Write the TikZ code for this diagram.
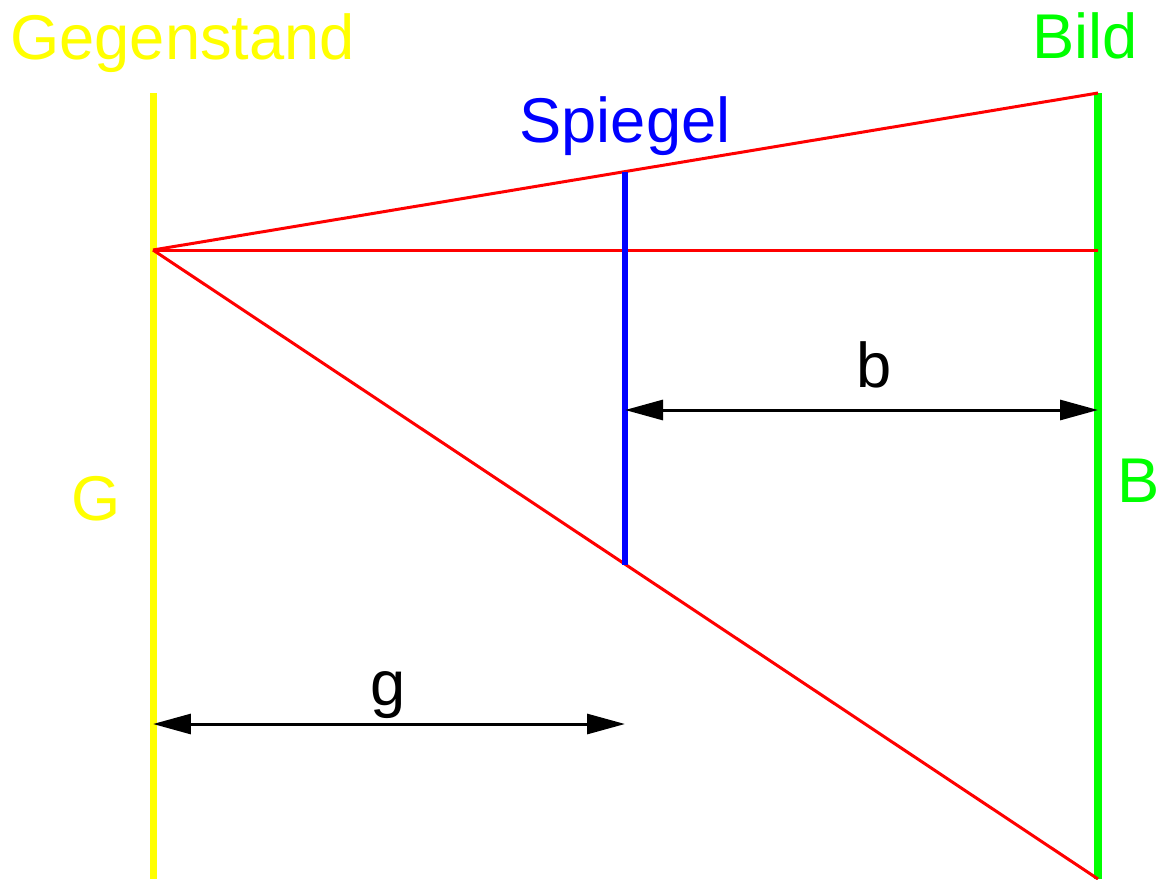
\documentclass[tikz,border=0pt]{standalone}
\usepackage{fontspec}
\setmainfont{Liberation Sans}
\usetikzlibrary{arrows.meta}
\definecolor{objyellow}{RGB}{255,255,0}
\definecolor{imggreen}{RGB}{0,255,0}
\definecolor{mirblue}{RGB}{0,0,255}
\definecolor{rayred}{RGB}{255,0,0}

\begin{document}
\begin{tikzpicture}[
  x=0.02cm,y=-0.02cm,
  font=\fontsize{36}{40}\selectfont,
  object/.style={draw=objyellow,line width=0.14cm},
  image/.style={draw=imggreen,line width=0.15cm},
  mirror/.style={draw=mirblue,line width=0.12cm},
  ray/.style={draw=rayred,line width=0.06cm},
  dim/.style={{Triangle[length=0.76cm,width=0.4cm]}-{Triangle[length=0.76cm,width=0.4cm]},line width=0.06cm,black},
  lab/.style={inner sep=0pt,anchor=base},
]
\useasboundingbox (0,0) rectangle (1165,879);
% screens and mirror
\coordinate (Gtop) at (153,93); \coordinate (Gbot) at (153,879);
\coordinate (Btop) at (1098,93); \coordinate (Bbot) at (1098,879);
\coordinate (Btip) at (1098,250);
\coordinate (Stop) at (625,172); \coordinate (Sbot) at (625,565);
\coordinate (P) at (153,250);
\draw[object] (Gtop) -- (Gbot);
\draw[image] (Btop) -- (Bbot);
% rays
\draw[ray] (P) -- (Btop);
\draw[ray] (P) -- (Btip);
\draw[ray] (P) -- (Bbot);
\draw[mirror] (Stop) -- (Sbot);
% distances
\coordinate (bL) at (625,410); \coordinate (bR) at (1098,410);
\coordinate (gL) at (153,724); \coordinate (gR) at (625,724);
\draw[dim] (bL) -- (bR);
\draw[dim] (gL) -- (gR);
% labels
\node[lab,anchor=base west,objyellow] (tG) at (10,59) {Gegenstand};
\node[lab,anchor=base west,imggreen] (tB) at (1032,58) {Bild};
\node[lab,mirblue] (tS) at (625,142) {Spiegel};
\node[lab,objyellow] (lG) at (96,520) {G};
\node[lab,imggreen] (lB) at (1139,502) {B};
\node[lab] (lb) at (874,387) {b};
\node[lab] (lg) at (388,705) {g};
\end{tikzpicture}
\end{document}
